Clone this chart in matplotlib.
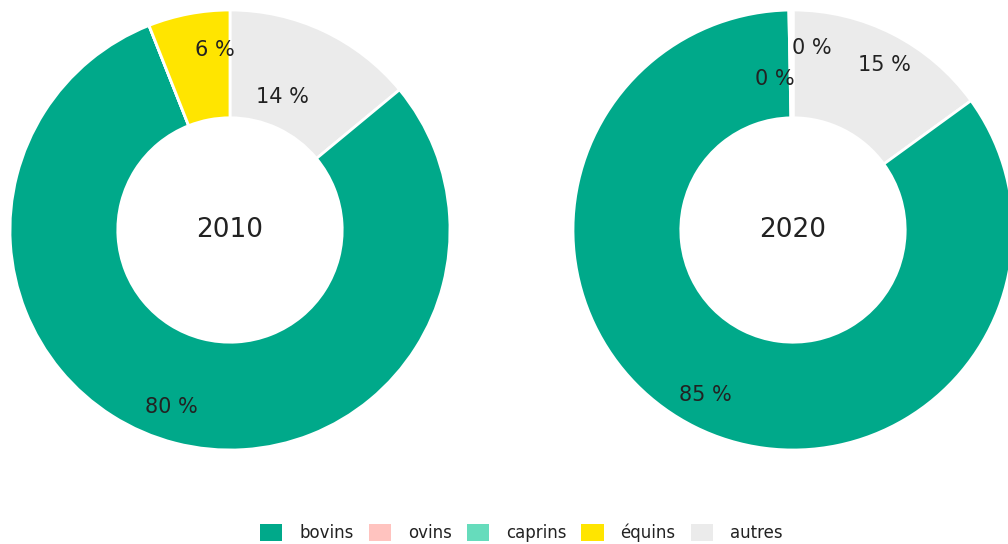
import numpy as np
import matplotlib
matplotlib.use("Agg")
import matplotlib.pyplot as plt
from matplotlib.patches import Patch

# Data (shares in %)
categories = ["bovins", "ovins", "caprins", "équins", "autres"]
colors = ["#00a98a", "#ffc3bf", "#66dcbc", "#ffe500", "#ebebeb"]
years = ["2010", "2020"]
values_2010 = [80, 0, 0, 6, 14]
values_2020 = [84.7, 0.2, 0.1, 0, 15]

# drawing order: clockwise from top, starting with "autres"
draw_order = [4, 0, 1, 2, 3]

# label placement (radius, angle nudge in degrees) per category
label_pos_2010 = {0: (0.85, -4), 3: (0.82, -6), 4: (0.65, 3.5)}
label_pos_2020 = {0: (0.85, -1.5), 1: (0.69, 6), 2: (0.83, -6), 4: (0.86, -2)}

W, H = 1008, 544
fig = plt.figure(figsize=(W / 100, H / 100), dpi=100)

def donut(x0, year, values, label_pos):
    ax = fig.add_axes([x0 / W, (H - 450) / H, 440 / W, 440 / H])
    vals = [values[i] for i in draw_order]
    cols = [colors[i] for i in draw_order]
    wedges, _ = ax.pie(vals, colors=cols, startangle=90, counterclock=False,
                       radius=1, wedgeprops=dict(width=0.49, edgecolor="white", linewidth=2))
    for w, i in zip(wedges, draw_order):
        if i not in label_pos:
            continue
        r, nudge = label_pos[i]
        ang = np.deg2rad((w.theta1 + w.theta2) / 2 + nudge)
        ax.text(r * np.cos(ang), r * np.sin(ang), f"{round(values[i]):.0f} %",
                ha="center", va="center", fontsize=15, color="#222222")
    ax.text(0, 0, year, ha="center", va="center", fontsize=19, color="#222222")
    ax.set_xlim(-1, 1)
    ax.set_ylim(-1, 1)
    ax.set_aspect("equal")
    ax.axis("off")

donut(10, years[0], values_2010, label_pos_2010)
donut(573, years[1], values_2020, label_pos_2020)

handles = [Patch(facecolor=c, edgecolor="none", label=l) for c, l in zip(colors, categories)]
fig.legend(handles=handles, loc="center", bbox_to_anchor=(0.517, 0.02), ncol=5,
           frameon=False, fontsize=12, handlelength=1.35, handleheight=1.2,
           handletextpad=1.0, columnspacing=0.9, labelcolor="#222222")

fig.savefig("out.png", dpi=100)
